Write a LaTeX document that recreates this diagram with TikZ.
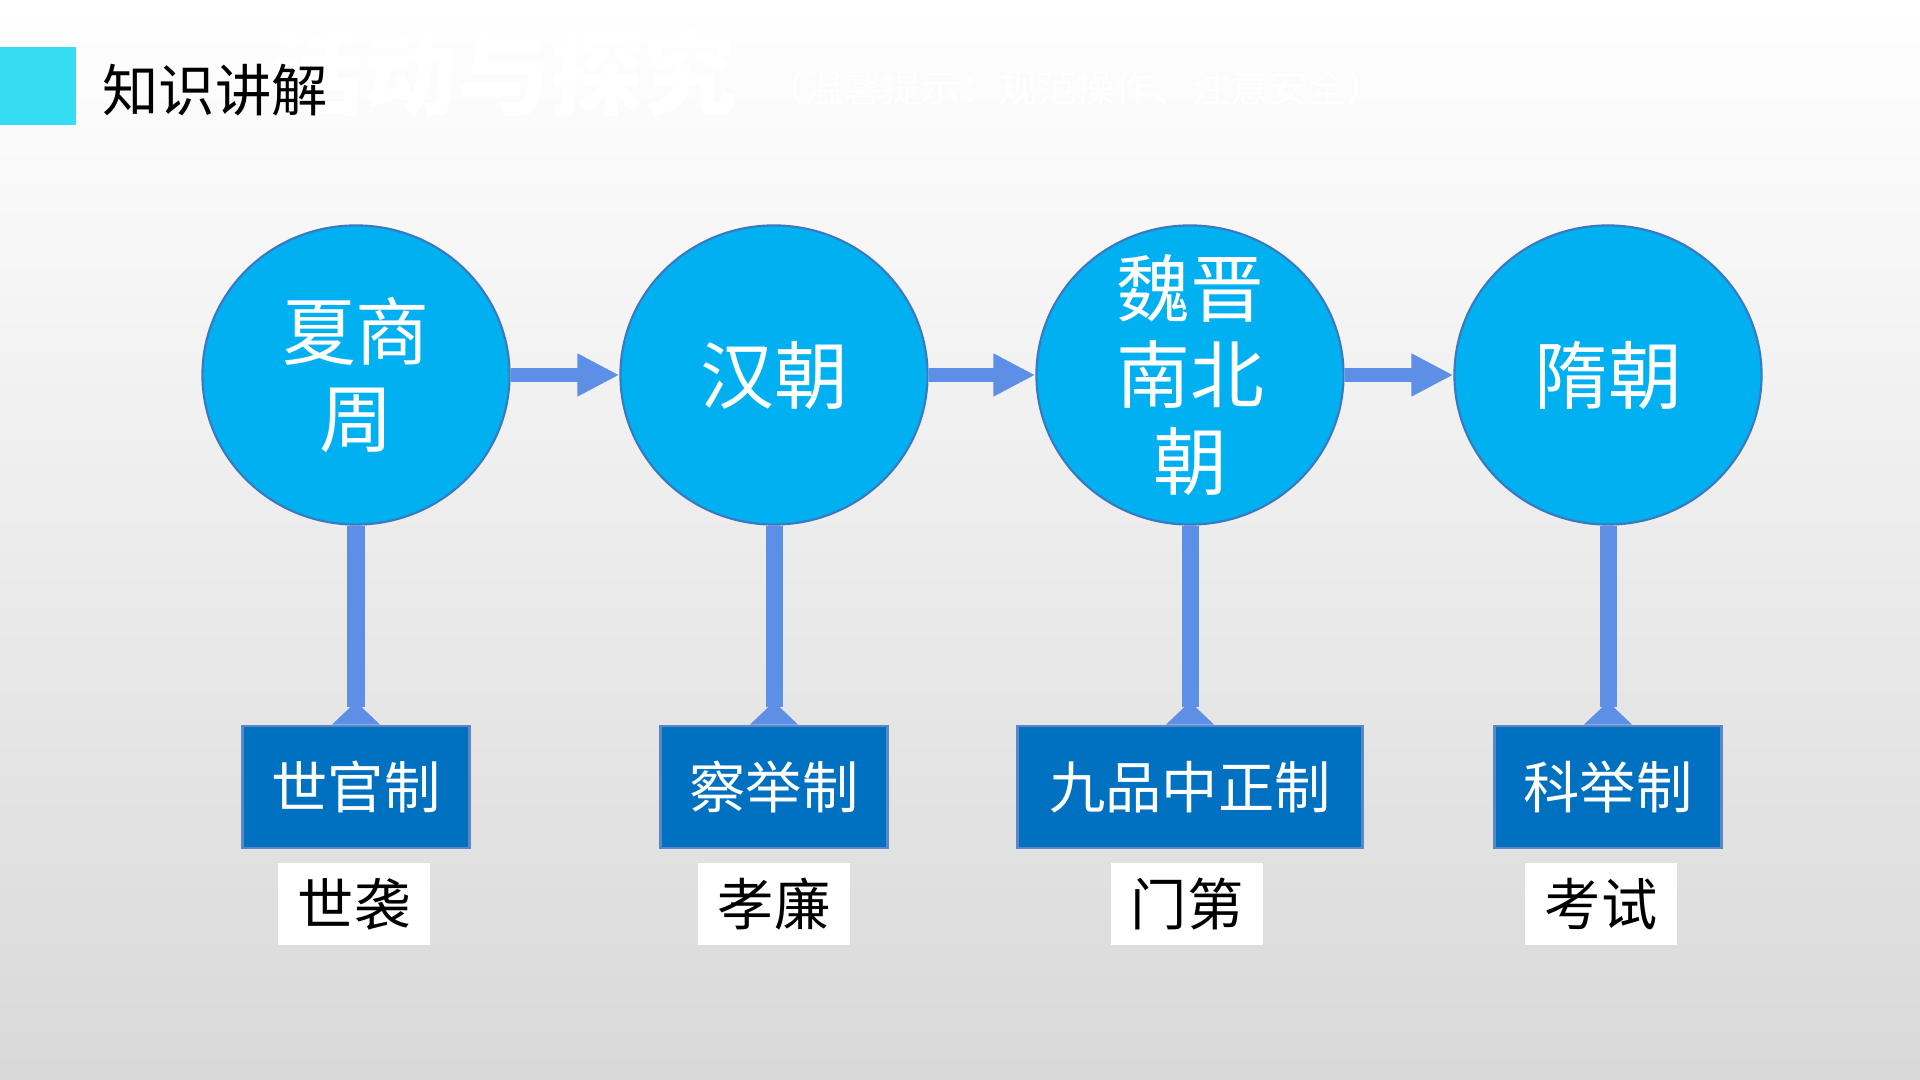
\documentclass[tikz,border=0pt]{standalone}
\usepackage{fontspec}
\setmainfont{Noto Sans CJK SC}
\usetikzlibrary{positioning,arrows.meta,shapes.geometric}
\definecolor{eraBlue}{HTML}{00B0F0}
\definecolor{eraLine}{HTML}{3A78C0}
\definecolor{sysBlue}{HTML}{0070C0}
\definecolor{sysLine}{HTML}{5B87C5}
\definecolor{linkBlue}{HTML}{5D8FE6}
\definecolor{tagCyan}{HTML}{35DDF2}

\begin{document}
\begin{tikzpicture}[x=0.01cm,y=-0.01cm,
  era/.style={ellipse,draw=eraLine,line width=0.6pt,fill=eraBlue,text=white,
    minimum width=3.07cm,minimum height=2.99cm,inner sep=-0.3cm,align=center,
    font=\fontsize{21}{24.5}\selectfont},
  sys/.style={draw=sysLine,line width=0.7pt,fill=sysBlue,text=white,
    minimum height=1.22cm,inner sep=0pt,font=\fontsize{16}{18}\selectfont},
  tag/.style={fill=white,minimum width=1.52cm,minimum height=0.82cm,inner sep=0pt,
    font=\fontsize{16}{18}\selectfont},
  link/.style={draw=linkBlue,line width=0.14cm,-{Triangle[length=0.42cm,width=0.40cm]}},
  stem/.style={draw=linkBlue,line width=0.17cm,-{Triangle[reversed,length=0.23cm,width=0.47cm]}}]
\useasboundingbox (0,0) rectangle (1920,1080);
\shade[top color=white,bottom color=black!15] (0,0) rectangle (1920,1080);
% slide heading (faint title sits behind it)
\node[anchor=west,inner sep=0pt,text=white,font=\fontsize{26.5}{30}\bfseries\selectfont]
  (title) at (270,72) {活动与探究};
\node[anchor=west,inner sep=0pt,text=white,font=\fontsize{11}{13}\selectfont]
  (hint) at (766,88) {（温馨提示：规范操作、注意安全）};
\fill[tagCyan] (0,47) rectangle (76,125);
\node[anchor=west,inner sep=0pt,font=\fontsize{16}{18}\selectfont] (head) at (102,90) {知识讲解};
% eras, selection systems and their basis
\foreach \i/\x/\w/\e/\s/\tx/\g in {1/356/2.27/{夏商\\周}/世官制/354/世袭,
    2/774/2.27/汉朝/察举制/774/孝廉,
    3/1190/3.45/{魏晋\\南北\\朝}/九品中正制/1187/门第,
    4/1608/2.27/隋朝/科举制/1601/考试}{
  \node[era] (c\i) at (\x,375) {\e};
  \node[sys,minimum width=\w cm] (b\i) at (\x,787) {\s};
  \node[tag] (t\i) at (\tx,904) {\g};
  \draw[stem] (c\i.south) -- (b\i.north);
}
\foreach \i/\j in {1/2,2/3,3/4}{\draw[link] (c\i.east) -- (c\j.west);}
\end{tikzpicture}
\end{document}
